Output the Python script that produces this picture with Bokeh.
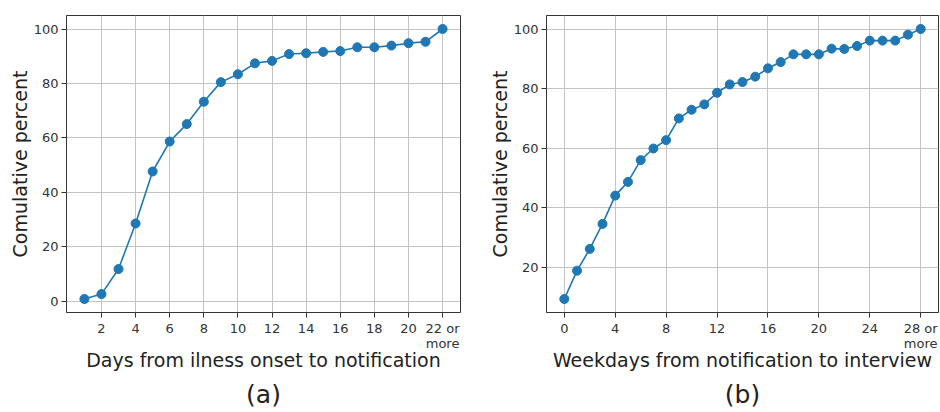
from bokeh.plotting import figure
from bokeh.models import Range1d, FixedTicker, Title
from bokeh.layouts import row
from bokeh.embed import file_html
from bokeh.resources import INLINE

# Panel (a): days from illness onset to notification
days_a = list(range(1, 23))
cum_a = [0.9, 2.7, 11.9, 28.6, 47.7, 58.7, 65.1, 73.3, 80.5, 83.4, 87.4,
         88.3, 90.8, 91.1, 91.6, 91.9, 93.3, 93.3, 93.9, 94.8, 95.3, 100.0]
xticks_a = [2, 4, 6, 8, 10, 12, 14, 16, 18, 20, 22]
xlabels_a = {22: "22 or\nmore"}
yticks_a = [0, 20, 40, 60, 80, 100]

# Panel (b): weekdays from notification to interview
days_b = list(range(0, 29))
cum_b = [9.4, 18.9, 26.2, 34.6, 44.1, 48.7, 56.0, 59.9, 62.7, 70.0, 72.9,
         74.7, 78.6, 81.4, 82.2, 84.0, 86.8, 88.9, 91.5, 91.5, 91.5, 93.4,
         93.3, 94.3, 96.1, 96.1, 96.1, 98.1, 100.0]
xticks_b = [0, 4, 8, 12, 16, 20, 24, 28]
xlabels_b = {28: "28 or\nmore"}
yticks_b = [20, 40, 60, 80, 100]

FONT = "DejaVu Sans"
BLUE = "#1f77b4"


def make_panel(x, y, xticks, xlabels, yticks, xlabel, tag, width, bl, br):
    xmin, xmax = min(x), max(x)
    ymin, ymax = min(y), max(y)
    mx = (xmax - xmin) * 0.05
    my = (ymax - ymin) * 0.05
    p = figure(width=width, height=412, output_backend="svg", toolbar_location=None,
               x_range=Range1d(xmin - mx, xmax + mx), y_range=Range1d(ymin - my, ymax + my),
               min_border_left=bl, min_border_right=br, min_border_top=15, min_border_bottom=90)
    p.line(x, y, line_color=BLUE, line_width=1.6)
    p.scatter(x, y, size=9, fill_color=BLUE, line_color=BLUE)
    p.outline_line_color = "#333333"
    p.outline_line_width = 1
    p.background_fill_color = "white"
    p.border_fill_color = "white"

    p.xaxis.ticker = FixedTicker(ticks=xticks)
    p.xaxis.major_label_overrides = xlabels
    p.yaxis.ticker = FixedTicker(ticks=yticks)
    p.xaxis.axis_label = xlabel
    p.yaxis.axis_label = "Comulative percent"
    for ax in (p.xaxis, p.yaxis):
        ax.axis_line_color = None
        ax.major_tick_line_color = "#333333"
        ax.major_tick_out = 5
        ax.major_tick_in = 0
        ax.minor_tick_line_color = None
        ax.major_label_text_font = FONT
        ax.major_label_text_font_size = "13px"
        ax.major_label_text_color = "#333333"
        ax.major_label_standoff = 3
        ax.axis_label_text_font = FONT
        ax.axis_label_text_font_size = "19px"
        ax.axis_label_text_font_style = "normal"
        ax.axis_label_text_color = "#222222"
    p.xaxis.major_label_text_line_height = 1.0
    p.xaxis.axis_label_standoff = -5
    p.yaxis.axis_label_standoff = 0
    p.grid.grid_line_color = "#c4c4c4"
    p.grid.grid_line_width = 1
    p.add_layout(Title(text=tag, align="center", text_font=FONT, text_font_size="25px",
                       text_font_style="normal", text_color="#222222", standoff=8), "below")
    return p


p1 = make_panel(days_a, cum_a, xticks_a, xlabels_a, yticks_a,
                "Days from ilness onset to notification", "(a)", 470, 66, 10)
p2 = make_panel(days_b, cum_b, xticks_b, xlabels_b, yticks_b,
                "Weekdays from notification to interview", "(b)", 470, 76, 2)

layout = row(p1, p2)
open("out.html", "w").write(file_html(layout, INLINE))
